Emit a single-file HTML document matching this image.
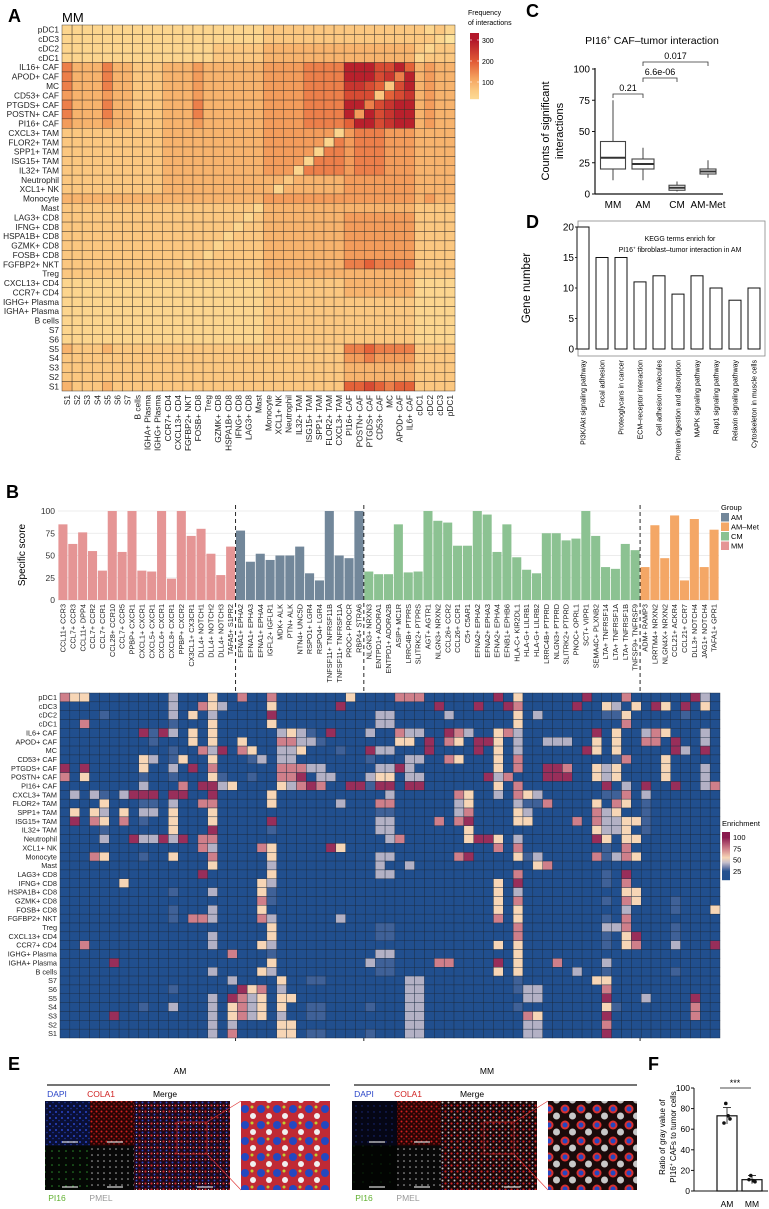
<!DOCTYPE html>
<html><head><meta charset="utf-8"><style>
html,body{margin:0;padding:0;background:#fff;}
svg{display:block;font-family:"Liberation Sans",sans-serif;}
</style></head><body>
<svg id="fig" width="769" height="1209" viewBox="0 0 769 1209" xmlns="http://www.w3.org/2000/svg">
<defs>
<pattern id="pDapi" width="6" height="6" patternUnits="userSpaceOnUse"><rect width="6" height="6" fill="#0a0f35"/><circle cx="2" cy="2" r="1" fill="#2a45c8"/><circle cx="5" cy="4.5" r="0.8" fill="#1c35a0"/></pattern>
<pattern id="pDapiMM" width="6" height="6" patternUnits="userSpaceOnUse"><rect width="6" height="6" fill="#050615"/><circle cx="2" cy="2" r="0.7" fill="#1a2a80"/></pattern>
<pattern id="pCola" width="5" height="5" patternUnits="userSpaceOnUse"><rect width="5" height="5" fill="#2a0404"/><circle cx="1.5" cy="1.5" r="1" fill="#d02020"/><circle cx="4" cy="3.8" r="0.8" fill="#a01515"/></pattern>
<pattern id="pPi16" width="7" height="7" patternUnits="userSpaceOnUse"><rect width="7" height="7" fill="#040804"/><circle cx="3" cy="3" r="0.8" fill="#2a8a2a"/></pattern>
<pattern id="pPi16MM" width="9" height="9" patternUnits="userSpaceOnUse"><rect width="9" height="9" fill="#020402"/><circle cx="3" cy="3" r="0.5" fill="#1a5a1a"/></pattern>
<pattern id="pPmel" width="6" height="6" patternUnits="userSpaceOnUse"><rect width="6" height="6" fill="#080808"/><circle cx="2" cy="3" r="0.8" fill="#b0b0b0"/></pattern>
<pattern id="pMerge" width="6" height="6" patternUnits="userSpaceOnUse"><rect width="6" height="6" fill="#200818"/><circle cx="1.5" cy="1.5" r="1.1" fill="#d02525"/><circle cx="4.5" cy="4.5" r="1" fill="#2a45c8"/><circle cx="4.5" cy="1.5" r="0.6" fill="#e0e0e0"/></pattern>
<pattern id="pMergeMM" width="6" height="6" patternUnits="userSpaceOnUse"><rect width="6" height="6" fill="#1a0606"/><circle cx="1.5" cy="1.5" r="1.1" fill="#d02525"/><circle cx="4.5" cy="4.5" r="1" fill="#c8c8c8"/><circle cx="4.5" cy="1.5" r="0.5" fill="#2a45c8"/></pattern>
<pattern id="pInset" width="16" height="16" patternUnits="userSpaceOnUse"><rect width="16" height="16" fill="#c02a35"/><circle cx="5" cy="5" r="4" fill="#2448c0"/><circle cx="13" cy="12" r="3" fill="#f0f0f0"/><circle cx="12" cy="3" r="1.5" fill="#c0d030"/></pattern>
<pattern id="pInsetMM" width="16" height="16" patternUnits="userSpaceOnUse"><rect width="16" height="16" fill="#1a0a0a"/><circle cx="5" cy="5" r="4.5" fill="#d83030"/><circle cx="5" cy="5" r="2.5" fill="#2448c0"/><circle cx="12.5" cy="12" r="3.5" fill="#c8c8c8"/></pattern>
</defs>
</svg>
<script>
// ---------- DATA ----------
const aRows = ["pDC1","cDC3","cDC2","cDC1","IL16+ CAF","APOD+ CAF","MC","CD53+ CAF","PTGDS+ CAF","POSTN+ CAF","PI16+ CAF","CXCL3+ TAM","FLOR2+ TAM","SPP1+ TAM","ISG15+ TAM","IL32+ TAM","Neutrophil","XCL1+ NK","Monocyte","Mast","LAG3+ CD8","IFNG+ CD8","HSPA1B+ CD8","GZMK+ CD8","FOSB+ CD8","FGFBP2+ NKT","Treg","CXCL13+ CD4","CCR7+ CD4","IGHG+ Plasma","IGHA+ Plasma","B cells","S7","S6","S5","S4","S3","S2","S1"];
const aCols = ["S1","S2","S3","S4","S5","S6","S7","B cells","IGHA+ Plasma","IGHG+ Plasma","CCR7+ CD4","CXCL13+ CD4","FGFBP2+ NKT","FOSB+ CD8","Treg","GZMK+ CD8","HSPA1B+ CD8","IFNG+ CD8","LAG3+ CD8","Mast","Monocyte","XCL1+ NK","Neutrophil","IL32+ TAM","ISG15+ TAM","SPP1+ TAM","FLOR2+ TAM","CXCL3+ TAM","PI16+ CAF","POSTN+ CAF","PTGDS+ CAF","CD53+ CAF","MC","APOD+ CAF","IL6+ CAF","cDC1","cDC2","cDC3","pDC1"];
// interaction counts in units of ~32 per digit
const aLevels = [
"1111111 111 111111111 1222 22222 2222222 2121",
"1111111 111 111111111 1222 22222 2222222 2210",
"1111111 111 111112222 2333 33333 3333333 2122",
"1111111 111 111112222 2333 33333 3333333 1222",
"5333533 222 333433333 3444 45555 9997796 3433",
"5333533 222 333433333 3444 45555 9997859 3433",
"5333533 222 333433333 3444 45555 8876279 3433",
"4333433 222 333433333 3444 45555 7772678 3433",
"5333533 222 333533333 3444 45555 9957899 3433",
"5333533 222 333533333 3444 45555 9497899 3433",
"4333433 222 333433333 3444 45555 6997899 3433",
"2222222 222 333333333 3444 44441 4555444 3333",
"2222222 222 333333333 3444 44415 4555444 3333",
"2222222 222 333333333 3444 44155 4555444 3333",
"2222222 222 333333333 3444 41555 4555444 3333",
"2222222 222 333333333 3444 15555 4555444 3333",
"2222222 222 333333333 3332 33333 4444444 3333",
"2222222 222 333333333 3313 33333 4444444 3333",
"3333333 333 333333333 3444 44444 4444444 3433",
"2222222 222 222222222 1333 33333 3333333 2222",
"2222222 222 222222221 2333 33333 4444444 2222",
"2222222 222 222222212 2333 33333 4444444 2222",
"2222222 222 222222122 2333 33333 4444444 2222",
"2222222 222 222221222 2333 33333 4444444 2222",
"2222222 222 222212222 2333 33333 4444444 2222",
"2222222 222 221222222 2333 33333 5565555 2222",
"2222222 222 222222222 2333 33333 3333333 2222",
"1111111 111 111111111 1222 22222 3333333 1111",
"1111111 111 111111111 1222 22222 3333333 1111",
"1111111 111 111111111 1222 22222 2222222 1111",
"1111111 111 111111111 1222 22222 2222222 1111",
"1111111 111 111111111 1222 22222 2222222 1111",
"1111111 111 111111111 1222 22222 2222222 1111",
"1111111 111 111111111 1222 22222 2222222 1111",
"3222322 222 222222222 2222 22222 5565555 2222",
"2222222 222 222222222 2222 22222 4454444 2222",
"2222222 222 222222222 2222 22222 3333333 2222",
"2222222 222 222222222 2222 22222 3333333 2222",
"3222322 222 222222222 2222 22222 6676566 2222"];
const aTicks = [100,200,300];

const bPairs = ["CCL11+ CCR3","CCL7+ CCR3","CCL11+ DPP4","CCL7+ CCR2","CCL7+ CCR1","CCL28+ CCR10","CCL7+ CCR5","PPBP+ CXCR1","CXCL1+ CXCR1","CXCL5+ CXCR1","CXCL6+ CXCR1","CXCL8+ CXCR1","PPBP+ CXCR2","CX3CL1+ CX3CR1","DLL4+ NOTCH1","DLL4+ NOTCH2","DLL4+ NOTCH3","TAFA5+ S1PR2",
"EFNA1+ EPHA2","EFNA1+ EPHA3","EFNA1+ EPHA4","IGFL2+ IGFLR1","MDK+ ALK","PTN+ ALK","NTN4+ UNC5D","RSPO1+ LGR4","RSPO4+ LGR4","TNFSF11+ TNFRSF11B","TNFSF11+ TNFRSF11A","PROC+ PROCR","RBP4+ STRA6",
"NLGN3+ NRXN3","ENTPD1+ ADORA1","ENTPD1+ ADORA2B","ASIP+ MC1R","LRRC4B+ PTPRS","SLITRK2+ PTPRS","AGT+ AGTR1","NLGN3+ NRXN2","CCL26+ CCR2","CCL26+ CCR1","C5+ C5AR1","EFNA2+ EPHA2","EFNA2+ EPHA3","EFNA2+ EPHA4","EFNB1+ EPHB6","HLA-C+ KIR2DL1","HLA-G+ LILRB1","HLA-G+ LILRB2","LRRC4B+ PTPRD","NLGN3+ PTPRD","SLITRK2+ PTPRD","PNOC+ OPRL1","SCT+ VIPR1","SEMA4C+ PLXNB2","LTA+ TNFRSF14","LTA+ TNFRSF1A","LTA+ TNFRSF1B","TNFSF9+ TNFRSF9",
"ADM+ RAMP3","LRRTM4+ NRXN2","NLGN4X+ NRXN2","CCL21+ ACKR4","CCL21+ CCR7","DLL3+ NOTCH4","JAG1+ NOTCH4","TAFA1+ GPR1"];
const bScores = [85,63,76,55,33,100,54,100,33,32,100,24,100,72,80,52,28,60,
78,43,52,45,50,50,60,30,22,100,50,47,100,
32,29,29,85,31,32,100,89,87,61,61,100,96,54,85,48,34,30,75,75,67,69,100,72,37,35,63,56,
37,84,47,95,22,91,37,79];
const bGroupNames = ["MM","AM","CM","AM-Met"];
const bGroupSizes = [18,13,28,8];
const bTicks = [0,25,50,75,100];
const hRows = aRows.slice(0,4).concat(["IL6+ CAF"]).concat(aRows.slice(5));
// sparse enrichment codes "col:code" (code 0..5)
const hCells = [
"0:4,1:3,2:3,11:2,15:3,18:4,21:4,29:3,34:4,35:4,36:4,44:5,46:3,53:5,57:4,64:5,65:2",
"11:2,14:4,15:3,16:2,21:3,28:5,38:5,42:5,45:5,46:4,52:5,55:3,56:2,58:3,60:5,61:3,63:5,65:3",
"4:1,11:2,13:3,15:2,21:5,32:2,33:2,39:2,46:3,48:2,55:1,56:1,57:3,63:1",
"2:4,11:1,15:3,21:3,32:2,33:2,46:3,57:4",
"8:5,9:1,10:5,11:2,13:3,15:3,22:2,23:3,24:2,25:1,27:5,31:2,34:4,35:2,36:2,39:5,40:4,41:2,44:3,45:4,46:2,54:5,56:3,59:2,60:4,61:3,65:2",
"9:1,13:3,15:3,18:3,22:4,23:4,24:2,25:2,26:1,34:3,35:3,37:5,39:4,40:3,42:5,43:5,44:3,46:2,49:2,50:2,51:2,54:3,56:3,59:4,60:4,62:5,65:2",
"11:1,14:4,15:2,16:5,18:4,19:3,22:2,23:2,24:3,28:1,31:5,32:2,33:2,37:5,42:5,44:3,46:2,53:5,54:3,56:3,62:5,63:2,65:5",
"8:3,9:2,11:1,12:3,15:3,19:1,20:2,22:2,23:2,31:1,35:2,36:2,39:4,40:3,44:3,46:4,56:1,57:4,61:3",
"0:5,2:5,8:3,11:2,13:5,15:4,22:4,23:4,24:4,25:2,26:2,32:2,33:2,34:5,35:2,44:3,46:4,49:5,50:5,51:4,54:3,55:2,56:3,61:3,65:2",
"0:4,2:3,8:1,11:1,15:3,16:1,19:1,22:4,23:4,24:5,26:2,27:2,31:2,32:3,33:3,35:2,36:2,43:5,44:2,45:4,49:5,50:5,51:5,54:3,55:2,56:3,61:3,65:2",
"8:2,12:4,14:5,15:5,16:2,17:3,22:3,23:2,24:4,25:5,26:4,29:5,30:5,31:1,32:5,33:5,35:5,36:5,44:3,46:4,55:5,57:2,59:5,62:5,65:2,66:4",
"1:2,3:2,4:1,6:2,7:5,8:5,9:5,11:5,12:5,15:5,21:3,33:2,40:4,41:3,44:2,46:4,47:3,48:2,55:1,56:1,57:4,59:2",
"4:3,8:1,9:1,11:2,14:4,15:4,21:3,28:2,32:4,33:4,40:2,41:3,46:2,47:1,48:1,49:4,54:3,56:4,57:3,59:1",
"1:3,3:3,4:2,6:3,8:2,9:2,11:3,15:3,32:1,33:1,40:2,41:4,46:3,47:2,54:4,55:2,56:3,59:1",
"1:5,3:4,4:3,6:4,8:1,11:3,15:3,21:5,32:2,33:2,38:4,40:4,41:5,46:3,47:3,52:4,54:4,55:2,56:2,57:3,58:3,59:1",
"4:1,11:3,15:5,21:1,32:2,33:2,41:3,54:3,55:2,56:2,57:3,59:1",
"4:2,7:5,8:2,9:2,10:5,11:2,12:5,14:4,15:4,33:2,34:4,41:3,42:5,43:5,44:3,46:2,54:5,55:3,57:3,58:3",
"14:4,15:2,20:4,21:3,27:5,28:3,44:4,46:4,55:1,57:4",
"3:4,4:3,8:1,11:3,15:4,21:3,32:2,33:2,40:4,41:5,46:3,47:1,48:2,54:4,55:1,56:2,57:4,58:3",
"15:3,21:2,32:2,35:2,48:3,49:4",
"14:5,21:3,32:2,33:2,46:4,55:1,57:5",
"6:3,20:3,21:2,44:3,46:5,55:1,57:4",
"11:1,15:2,20:3,21:1,44:3,46:2,57:3,58:3",
"20:4,21:1,44:3,46:4,55:1,57:4,58:3,62:1",
"11:1,15:2,20:3,44:3,46:3,57:2,62:1,66:3",
"11:1,13:4,14:4,15:2,20:4,21:2,28:2,44:4,46:3,55:1,57:4",
"21:3,32:1,33:1,46:4,55:2,56:2,57:4,62:1",
"15:2,21:3,32:1,33:1,46:4,55:1,57:3,58:5,62:1",
"2:4,15:2,20:3,21:2,44:3,46:3,55:1,57:3,58:4,62:2,66:5",
"17:4,21:1,32:2,33:2,46:3",
"5:5,21:3,31:2,32:1,33:1,38:4,39:4,44:5,46:3,50:4,55:2",
"15:2,20:3,21:2,32:1,33:1,44:3,46:3,52:2,55:1,62:1",
"17:2,22:3,25:1,26:1,35:2,36:2,46:1,54:3,55:3",
"11:1,18:5,19:3,20:4,22:2,35:2,36:2,46:1,47:2,48:2,55:4",
"15:2,17:5,18:4,19:2,20:3,22:3,23:3,35:2,36:2,47:2,48:2,55:5,59:2,64:5",
"8:1,11:2,15:2,17:3,18:4,19:2,20:3,22:3,25:1,26:1,31:1,35:2,36:2,46:1,55:3,56:1,64:4",
"5:5,15:2,17:3,18:4,19:2,20:3,22:2,25:1,26:1,35:2,36:2,47:4,48:3,55:5,64:4",
"15:2,17:2,22:3,23:3,35:2,36:2,47:2,48:2,55:4",
"15:2,17:4,22:3,23:3,25:1,26:1,31:1,35:2,36:2,47:2,48:2,55:5"];
const hCodeValues = [10,28,42,55,75,95];
const hTicks = [25,50,75,100];

const cGroups = ["MM","AM","CM","AM-Met"];
const cLo = [11,11,2,13];
const cQ1 = [20,20,3,16];
const cMed = [29,24,5,18];
const cQ3 = [42,28,7,20];
const cHi = [75,37,10,27];
const cTicks = [0,25,50,75,100];
const cPvals = ["0.21","6.6e-06","0.017"];

const dTerms = ["PI3K/Akt signaling pathway","Focal adhesion","Proteoglycans in cancer","ECM\u2013receptor interaction","Cell adhesion molecules","Protein digestion and absorption","MAPK signaling pathway","Rap1 signaling pathway","Relaxin signaling pathway","Cytoskeleton in muscle cells"];
const dCounts = [20,15,15,11,12,9,12,10,8,10];
const dTicks = [0,5,10,15,20];

const fGroups = ["AM","MM"];
const fMeans = [73,11];
const fSD = [8,4];
const fPoints = [[85,73,66,70],[15,10,11,9]];
const fTicks = [0,20,40,60,80,100];

// ---------- HELPERS ----------
const NS = "http://www.w3.org/2000/svg";
const svg = document.getElementById("fig");
function mk(parent, tag, attrs){ const e=document.createElementNS(NS,tag); for(const k in attrs) e.setAttribute(k, attrs[k]); parent.appendChild(e); return e; }
function txt(parent, x, y, s, attrs){ const e=mk(parent,"text",Object.assign({x:x,y:y},attrs||{})); e.textContent=s; return e; }
function hex2rgb(h){ return [parseInt(h.substr(1,2),16),parseInt(h.substr(3,2),16),parseInt(h.substr(5,2),16)]; }
function interp(stops, v){
  if(v<=stops[0][0]) return stops[0][1];
  for(let i=1;i<stops.length;i++){ if(v<=stops[i][0]){ const t=(v-stops[i-1][0])/(stops[i][0]-stops[i-1][0]); const a=hex2rgb(stops[i-1][1]), b=hex2rgb(stops[i][1]); return "rgb("+a.map((c,j)=>Math.round(c+(b[j]-c)*t)).join(",")+")"; } }
  return stops[stops.length-1][1];
}
function g(name){ const e=mk(svg,"g",{});   return e; }
function bold(parent,x,y,s){ const e=txt(parent,x,y,s,{"font-size":18,"font-weight":"bold"}); return e; }

// ---------- PANEL A ----------
const A = g("panel-a");
let lab = bold(A,8,22,"A");


let t = txt(A,62,22,"MM",{"font-size":13});


const aStops = [[0,"#fde29c"],[60,"#fbca82"],[120,"#f5a35f"],[200,"#e25b35"],[300,"#b3182b"]];
const ax0=62, ax1=455, ay0=25, ay1=391;
const acw=(ax1-ax0)/aCols.length, ach=(ay1-ay0)/aRows.length;
function aX(i){ return ax0+i*acw; }
function aY(i){ return ay0+i*ach; }
const aGrid = mk(A,"g",{});


aLevels.forEach((rs,r)=>{
  const digits = rs.replace(/ /g,"");
  for(let c=0;c<aCols.length;c++){
    const v = Number(digits[c])*32;
    const cell = mk(aGrid,"rect",{x:aX(c),y:aY(r),width:acw,height:ach,fill:interp(aStops,v),stroke:"#3a3028","stroke-width":0.45});
    
    
  }
});
aRows.forEach((s,r)=>{ const e=txt(A,ax0-3,aY(r)+ach/2+3,s,{"font-size":8.3,"text-anchor":"end",fill:"#222"});
  
   });
aCols.forEach((s,c)=>{ const x=aX(c)+acw/2+3, y=ay1+4; const e=txt(A,x,y,s,{"font-size":8.3,"text-anchor":"end",fill:"#222",transform:"rotate(-90 "+x+" "+y+")"});
  
   });
// legend
const aLeg = mk(A,"g",{});


txt(aLeg,468,15,"Frequency",{"font-size":7});
txt(aLeg,468,25,"of interactions",{"font-size":7});
const lgV=v=>82-(v-100)*0.21;
for(let i=0;i<66;i++){ const yy=33+i; const v=100+(82-yy)/0.21; mk(aLeg,"rect",{x:470,y:yy,width:9,height:1.2,fill:interp(aStops,v)}); }
aTicks.forEach(v=>{ mk(aLeg,"line",{x1:470,x2:472,y1:lgV(v),y2:lgV(v),stroke:"#fff","stroke-width":0.6}); mk(aLeg,"line",{x1:477,x2:479,y1:lgV(v),y2:lgV(v),stroke:"#fff","stroke-width":0.6}); txt(aLeg,482,lgV(v)+3,String(v),{"font-size":7}); });

// ---------- PANEL B BARS ----------
const B = g("panel-b");
lab = bold(B,6,498,"B");


const bx0=58, bx1=719, by0=600, by100=511;
const bcw=(bx1-bx0)/bPairs.length;
const bY=v=>by0-(by0-by100)*v/100;
const bColor={"MM":"#e59595","AM":"#72879a","CM":"#8cc292","AM-Met":"#f4a766"};
const bGroupOf=[]; bGroupSizes.forEach((n,gi)=>{ for(let k=0;k<n;k++) bGroupOf.push(bGroupNames[gi]); });
bTicks.forEach(v=>{ mk(B,"line",{x1:bx0,x2:bx1,y1:bY(v),y2:bY(v),stroke:"#e6e6e6","stroke-width":0.8}); const e=txt(B,bx0-3,bY(v)+3,String(v),{"font-size":8.5,"text-anchor":"end",fill:"#333"});
  
   });
t = txt(B,25,555,"Specific score",{"font-size":10,"text-anchor":"middle",transform:"rotate(-90 25 555)"});


bScores.forEach((v,i)=>{
  const r = mk(B,"rect",{x:bx0+i*bcw+0.4,y:bY(v),width:bcw-0.8,height:by0-bY(v),fill:bColor[bGroupOf[i]]});
  
  
  const x=bx0+i*bcw+bcw/2+2.6, y=604;
  const l = txt(B,x,y,bPairs[i],{"font-size":7.3,"text-anchor":"end",fill:"#222",transform:"rotate(-90 "+x+" "+y+")"});
  
  
});
let acc=0;
bGroupSizes.slice(0,3).forEach(n=>{ acc+=n; const x=bx0+acc*bcw; const d=mk(B,"line",{x1:x,x2:x,y1:505,y2:1044,stroke:"#111","stroke-width":0.9,"stroke-dasharray":"4,3"});
  
   });
const bLeg = mk(B,"g",{});


txt(bLeg,721,510,"Group",{"font-size":7.5});
["AM","AM-Met","CM","MM"].forEach((n,i)=>{ mk(bLeg,"rect",{x:721,y:513+i*9.5,width:8,height:8.5,fill:bColor[n]}); txt(bLeg,731,520+i*9.5,n==="AM-Met"?"AM\u2013Met":n,{"font-size":7.5}); });

// ---------- PANEL B HEATMAP ----------
const hx0=60, hx1=720, hy0=693, hy1=1038;
const hcw=(hx1-hx0)/bPairs.length, hch=(hy1-hy0)/hRows.length;
const hStops=[[0,"#1f4e8d"],[25,"#24518f"],[33,"#6c7ca8"],[44,"#c3bdcb"],[55,"#f7d6b6"],[75,"#cf7f8a"],[100,"#8a1a4e"]];
const hG = mk(B,"g",{});


hRows.forEach((name,r)=>{
  const codes = new Array(bPairs.length).fill(0);
  hCells[r].split(",").forEach(p=>{ const kv=p.split(":"); codes[Number(kv[0])]=Number(kv[1]); });
  codes.forEach((cd,c)=>{
    const cell = mk(hG,"rect",{x:hx0+c*hcw,y:hy0+r*hch,width:hcw,height:hch,fill:interp(hStops,hCodeValues[cd]),stroke:"#1a2a40","stroke-width":0.4});
    
    
  });
  const e = txt(B,hx0-3,hy0+r*hch+hch/2+2.6,name,{"font-size":7.3,"text-anchor":"end",fill:"#222"});
  
  
});
const hLeg = mk(B,"g",{});


txt(hLeg,722,826,"Enrichment",{"font-size":7.5});
const hLY=v=>837+(100-v)*0.45;
for(let i=0;i<48;i++){ const yy=832+i; const v=100-(yy-837)/0.45; mk(hLeg,"rect",{x:722,y:yy,width:8,height:1.2,fill:interp(hStops,v)}); }
hTicks.forEach(v=>txt(hLeg,733,hLY(v)+3,String(v),{"font-size":7.5}));

// ---------- PANEL C ----------
const C = g("panel-c");
lab = bold(C,526,17,"C");


t = txt(C,652,44,"PI16",{"font-size":10.5,"text-anchor":"middle"});
t.innerHTML = 'PI16<tspan font-size="7" dy="-4">+</tspan><tspan dy="4"> CAF\u2013tumor interaction</tspan>';


const cx0=595, cxEnd=723, cy0=194, cy100=69;
const cY=v=>cy0-(cy0-cy100)*v/100;
const cCenters=[613,643,677,708], cW=[25,22,16,16];
mk(C,"line",{x1:cx0,x2:cx0,y1:cy100-1,y2:cy0,stroke:"#111","stroke-width":1.2});
mk(C,"line",{x1:cx0,x2:cxEnd,y1:cy0,y2:cy0,stroke:"#111","stroke-width":1.2});
cTicks.forEach(v=>{ mk(C,"line",{x1:cx0-3,x2:cx0,y1:cY(v),y2:cY(v),stroke:"#111"}); const e=txt(C,cx0-5,cY(v)+3.5,String(v),{"font-size":10,"text-anchor":"end"});
  
   });
t = txt(C,549,131,"Counts of significant",{"font-size":11,"text-anchor":"middle",transform:"rotate(-90 549 131)"});


txt(C,563,131,"interactions",{"font-size":11,"text-anchor":"middle",transform:"rotate(-90 563 131)"});
cGroups.forEach((gname,i)=>{
  const x=cCenters[i], w=cW[i];
  const bx = mk(C,"g",{});
  
  
  mk(bx,"line",{x1:x,x2:x,y1:cY(cHi[i]),y2:cY(cQ3[i]),stroke:"#444","stroke-width":1});
  mk(bx,"line",{x1:x,x2:x,y1:cY(cQ1[i]),y2:cY(cLo[i]),stroke:"#444","stroke-width":1});
  mk(bx,"rect",{x:x-w/2,y:cY(cQ3[i]),width:w,height:cY(cQ1[i])-cY(cQ3[i]),fill:"#fff",stroke:"#444","stroke-width":1.1});
  mk(bx,"line",{x1:x-w/2,x2:x+w/2,y1:cY(cMed[i]),y2:cY(cMed[i]),stroke:"#333","stroke-width":2});
  const e=txt(C,x,208,gname,{"font-size":10,"text-anchor":"middle"});
  
  
});
[[0,1,94,"0.21"],[1,2,78,"6.6e-06"],[1,3,62,"0.017"]].forEach((b,k)=>{
  const x1=cCenters[b[0]], x2=cCenters[b[1]], y=b[2];
  const br = mk(C,"path",{d:"M"+x1+" "+(y+4)+"V"+y+"H"+x2+"V"+(y+4),fill:"none",stroke:"#333","stroke-width":0.8});
  
  
  txt(C,(x1+x2)/2,y-3,cPvals[k],{"font-size":9,"text-anchor":"middle"});
});

// ---------- PANEL D ----------
const D = g("panel-d");
lab = bold(D,526,228,"D");


mk(D,"rect",{x:578,y:221,width:187,height:135,fill:"none",stroke:"#888","stroke-width":0.8});
const dY=v=>349-(349-227)*v/20;
dTicks.forEach(v=>{ mk(D,"line",{x1:575,x2:578,y1:dY(v),y2:dY(v),stroke:"#333"}); const e=txt(D,574,dY(v)+3.5,String(v),{"font-size":10,"text-anchor":"end"});
  
   });
t = txt(D,530,288,"Gene number",{"font-size":11.5,"text-anchor":"middle",transform:"rotate(-90 530 288)"});


txt(D,680,241,"KEGG terms enrich for",{"font-size":7,"text-anchor":"middle"});
t = txt(D,680,252,"",{"font-size":7,"text-anchor":"middle"});
t.innerHTML='PI16<tspan font-size="4.5" dy="-2.5">+</tspan><tspan dy="2.5"> fibroblast\u2013tumor interaction in AM</tspan>';
dCounts.forEach((v,i)=>{
  const x=583+i*19;
  const r=mk(D,"rect",{x:x-6,y:dY(v),width:12,height:dY(0)-dY(v),fill:"#fff",stroke:"#111","stroke-width":1});
  
  
  const lx=x+2.5, ly=360;
  const l=txt(D,lx,ly,dTerms[i],{"font-size":7,"text-anchor":"end",transform:"rotate(-90 "+lx+" "+ly+")"});
  
  
});

// ---------- PANEL E ----------
const E = g("panel-e");
lab = bold(E,8,1070,"E");


function micro(off, title, pf){
  const grp = mk(E,"g",{});
  
  
  const L=45+off;
  txt(grp,L+135,1074,title,{"font-size":8.5,"text-anchor":"middle"});
  mk(grp,"line",{x1:L+2,x2:L+285,y1:1085,y2:1085,stroke:"#222","stroke-width":1.2});
  txt(grp,L+12,1097,"DAPI",{"font-size":8.5,fill:"#2a45c8","text-anchor":"middle"});
  txt(grp,L+56,1097,"COLA1",{"font-size":8.5,fill:"#d02020","text-anchor":"middle"});
  txt(grp,L+120,1097,"Merge",{"font-size":8.5,"text-anchor":"middle"});
  txt(grp,L+12,1201,"PI16",{"font-size":8.5,fill:"#60b030","text-anchor":"middle"});
  txt(grp,L+56,1201,"PMEL",{"font-size":8.5,fill:"#999","text-anchor":"middle"});
  mk(grp,"rect",{x:L,y:1101,width:45,height:44.5,fill:"url(#"+pf[0]+")"});
  mk(grp,"rect",{x:L+45,y:1101,width:44,height:44.5,fill:"url(#pCola)"});
  mk(grp,"rect",{x:L,y:1145.5,width:45,height:44.5,fill:"url(#"+pf[1]+")"});
  mk(grp,"rect",{x:L+45,y:1145.5,width:44,height:44.5,fill:"url(#pPmel)"});
  mk(grp,"rect",{x:L+89,y:1101,width:96,height:89,fill:"url(#"+pf[2]+")"});
  mk(grp,"rect",{x:L+196,y:1101,width:89,height:89,fill:"url(#"+pf[3]+")"});
  [[L+25,1142],[L+70,1142],[L+25,1187],[L+70,1187],[L+160,1187]].forEach(p=>mk(grp,"line",{x1:p[0]-8,x2:p[0]+8,y1:p[1],y2:p[1],stroke:"#ddd","stroke-width":1.2}));
  mk(grp,"rect",{x:L+132,y:1122,width:30,height:32,fill:"none",stroke:"#e03030","stroke-width":0.6});
  mk(grp,"line",{x1:L+162,y1:1122,x2:L+196,y2:1101,stroke:"#e03030","stroke-width":0.6});
  mk(grp,"line",{x1:L+162,y1:1154,x2:L+196,y2:1190,stroke:"#e03030","stroke-width":0.6});
}
micro(0,"AM",["pDapi","pPi16","pMerge","pInset"]);
micro(307,"MM",["pDapiMM","pPi16MM","pMergeMM","pInsetMM"]);

// ---------- PANEL F ----------
const F = g("panel-f");
lab = bold(F,648,1070,"F");


const fx0=694, fy0=1191, fy100=1088;
const fY=v=>fy0-(fy0-fy100)*v/100;
mk(F,"line",{x1:fx0,x2:fx0,y1:fy100,y2:fy0,stroke:"#111","stroke-width":1});
mk(F,"line",{x1:fx0,x2:768,y1:fy0,y2:fy0,stroke:"#111","stroke-width":1});
fTicks.forEach(v=>{ mk(F,"line",{x1:fx0-3,x2:fx0,y1:fY(v),y2:fY(v),stroke:"#111"}); const e=txt(F,fx0-4,fY(v)+3,String(v),{"font-size":8.5,"text-anchor":"end"});
  
   });
t = txt(F,665,1137,"Ratio of gray value of",{"font-size":8,"text-anchor":"middle",transform:"rotate(-90 665 1137)"});


t = txt(F,676,1137,"",{"font-size":8,"text-anchor":"middle",transform:"rotate(-90 676 1137)"});
t.innerHTML='PI16<tspan font-size="5" dy="-3">+</tspan><tspan dy="3"> CAFs to tumor cells</tspan>';
const fCenters=[727,752];
fGroups.forEach((gname,i)=>{
  const x=fCenters[i];
  const r=mk(F,"rect",{x:x-10,y:fY(fMeans[i]),width:20,height:fy0-fY(fMeans[i]),fill:"#fff",stroke:"#111","stroke-width":1.2});
  
  
  mk(F,"line",{x1:x,x2:x,y1:fY(fMeans[i]+fSD[i]),y2:fY(fMeans[i]-fSD[i]),stroke:"#111","stroke-width":0.8});
  mk(F,"line",{x1:x-4,x2:x+4,y1:fY(fMeans[i]+fSD[i]),y2:fY(fMeans[i]+fSD[i]),stroke:"#111","stroke-width":0.8});
  fPoints[i].forEach((p,k)=>{ const d=mk(F,"circle",{cx:x+(k%2?3:-3)*(k<2?0.4:1),cy:fY(p),r:1.8,fill:"#111"});
    
     });
  const e=txt(F,x,1207,gname,{"font-size":8.5,"text-anchor":"middle"});
  
  
});
mk(F,"line",{x1:720,x2:751,y1:1088,y2:1088,stroke:"#111","stroke-width":0.8});
txt(F,735,1086,"***",{"font-size":9,"text-anchor":"middle"});
</script>
</body></html>
